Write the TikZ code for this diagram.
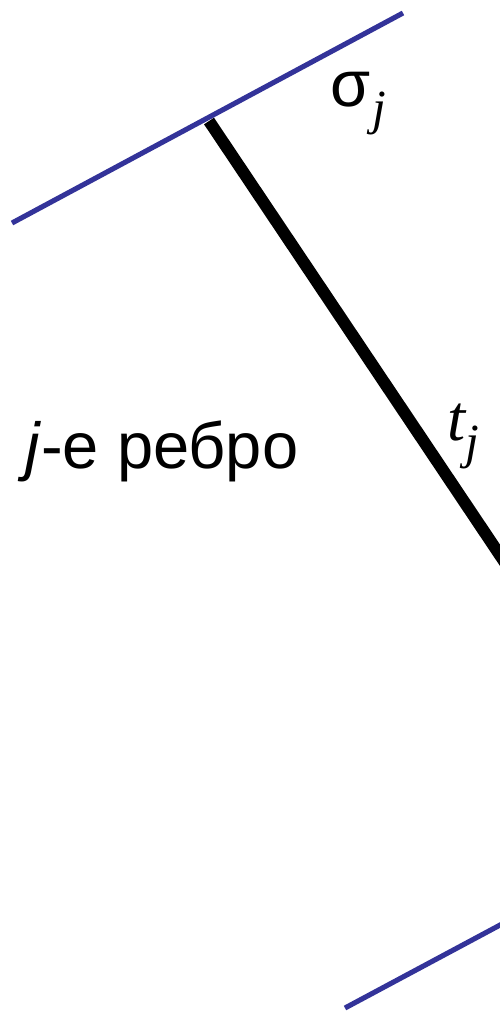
\documentclass[tikz,border=0pt]{standalone}
\usepackage{fontspec}
\setmainfont{Liberation Sans}
\newfontfamily\serifit{Liberation Serif}[ItalicFont={Liberation Serif Italic}]
\tikzset{
  edgeline/.style={line width=2.9pt, color=edgeblue},
  tline/.style={line width=6.8pt, color=black},
  lbl/.style={anchor=base west, inner sep=0pt, font=\fontsize{37}{44}\selectfont},
}
\definecolor{edgeblue}{HTML}{333399}
\newcommand{\subj}{\raisebox{-10.5pt}{\fontsize{28}{32}\selectfont\serifit\itshape j}}
\begin{document}
\begin{tikzpicture}[x=0.02cm, y=-0.02cm]
   \useasboundingbox (0,0) rectangle (500,1012);
   \clip (0,0) rectangle (500,1012);
   % the edge t_j between two sigma lines
   \coordinate (top1) at (12,223);
   \coordinate (top2) at (403,13);
   \coordinate (foot) at (209,121);
   \coordinate (tend) at (530,600);
   \coordinate (bot1) at (345,1008);
   \coordinate (bot2) at (530,909);
   \draw[tline] (foot) -- (tend);
   \draw[edgeline] (top1) -- (top2);
   \draw[edgeline] (bot1) -- (bot2);
   \node[lbl] (sigma) at (330,106) {σ\kern1pt\subj};
   \node[lbl] (tj) at (447,440) {{\serifit\itshape t}\subj};
   \node[lbl] (rib) at (25,468) {\textit{j}-е ребро};
\end{tikzpicture}
\end{document}
